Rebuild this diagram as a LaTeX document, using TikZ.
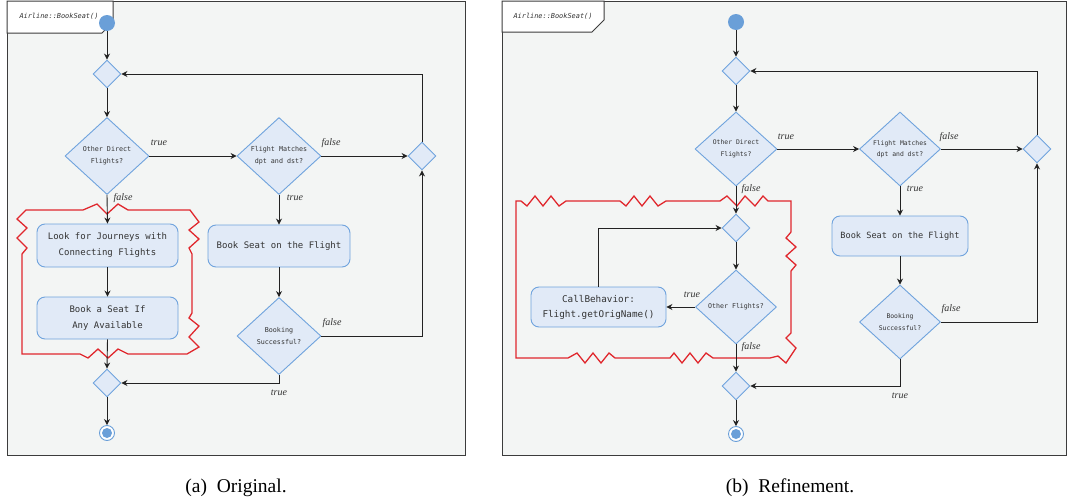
\documentclass[tikz,border=0pt]{standalone}
\usepackage{fontspec}
\setmainfont{Liberation Serif}
\newfontfamily\monof{DejaVu Sans Mono}
\usetikzlibrary{shapes.geometric,arrows.meta}
\definecolor{bg}{HTML}{F3F5F4}
\definecolor{frm}{HTML}{3C3C3C}
\definecolor{nfill}{HTML}{E1EAF7}
\definecolor{nline}{HTML}{6FA3DD}
\definecolor{dotc}{HTML}{6A9FD8}
\definecolor{zz}{HTML}{E0272D}
\definecolor{txt}{HTML}{333333}
\definecolor{edgec}{HTML}{222222}
\begin{document}
\begin{tikzpicture}[x=1pt,y=-1pt,
 panel/.style={draw=frm,line width=1pt,fill=bg},
 tabbox/.style={draw=frm,line width=1pt,fill=white},
 dec/.style={diamond,draw=nline,fill=nfill,line width=0.9pt,inner sep=0pt,text=txt,align=center},
 merge/.style={dec,minimum width=28pt,minimum height=28pt},
 actbox/.style={rectangle,rounded corners=8pt,draw=nline,fill=nfill,line width=0.9pt,text=txt,align=center,inner sep=0pt},
 initn/.style={circle,fill=dotc,minimum size=16pt,inner sep=0pt},
 finout/.style={circle,draw=dotc,fill=white,line width=0.9pt,minimum size=15pt,inner sep=0pt},
 finin/.style={circle,fill=dotc,minimum size=10pt,inner sep=0pt},
 flow/.style={draw=edgec,line width=0.9pt,-{Stealth[length=6pt,width=6pt,inset=2pt]}},
 lab/.style={font=\fontsize{10}{12}\selectfont\itshape,text=txt,inner sep=0pt},
 zig/.style={draw=zz,line width=1.3pt,line join=miter},
 ttl/.style={font=\monof\fontsize{6.9}{8}\selectfont\itshape,text=txt,inner sep=0pt},
 captxt/.style={font=\fontsize{19.5}{22}\selectfont,text=black,inner sep=0pt,anchor=base}]
\useasboundingbox (0,0) rectangle (1068,498);
\fill[white] (0,0) rectangle (1068,498);

% ---------------- panel (a) ----------------
\draw[panel] (7,1) rectangle (465,455);
\draw[tabbox] (7,1) -- (113,1) -- (113,22) -- (102,33) -- (7,33) -- cycle;
\node[ttl] (ta) at (59,16) {Airline::BookSeat()};

\draw[zig] (26,210) -- (83,210) -- (97,204) -- (107,214) -- (118,204) -- (128,210) -- (190,210)
 -- (199,222) -- (189,230) -- (199,239) -- (189,248) -- (192,254) -- (192,313) -- (189,318)
 -- (199,326) -- (189,337) -- (199,347) -- (187,354) -- (128,354) -- (118,349) -- (108,358)
 -- (98,349) -- (88,358) -- (80,354) -- (22,354) -- (22,254) -- (27,248) -- (17,238)
 -- (27,228) -- (17,219) -- cycle;

\node[initn] (ai) at (107,23) {};
\node[merge] (am1) at (107,74) {};
\node[dec,minimum width=84pt,minimum height=77pt,font=\monof\fontsize{6.7}{12}\selectfont] (ad1) at (107,156) {Other Direct\\Flights?};
\node[dec,minimum width=84pt,minimum height=77pt,font=\monof\fontsize{6.7}{12}\selectfont] (ad2) at (279,156) {Flight Matches\\dpt and dst?};
\node[merge] (amr) at (422,156) {};
\node[actbox,minimum width=142pt,minimum height=42pt,font=\monof\fontsize{9}{16}\selectfont] (abs) at (279,246) {Book Seat on the Flight};
\node[dec,minimum width=84pt,minimum height=77pt,font=\monof\fontsize{6.7}{12}\selectfont] (abk) at (279,336) {Booking\\Successful?};
\node[actbox,minimum width=141pt,minimum height=43pt,font=\monof\fontsize{9}{16}\selectfont] (alk) at (107.5,245.5) {Look for Journeys with\\Connecting Flights};
\node[actbox,minimum width=141pt,minimum height=42pt,font=\monof\fontsize{9}{16}\selectfont] (aba) at (107.5,318) {Book a Seat If\\Any Available};
\node[merge] (amb) at (107,383) {};
\node[finout] (afo) at (107,433) {};
\node[finin] (afi) at (107,433) {};

\draw[flow] (ai) -- (am1.north);
\draw[flow] (am1.south) -- (ad1.north);
\draw[flow] (ad1.east) -- (ad2.west);
\draw[flow] (ad2.east) -- (amr.west);
\draw[flow] (ad2.south) -- (abs.north);
\draw[flow] (abs.south) -- (abk.north);
\draw[flow] (abk.east) -| (amr.south);
\draw[flow] (amr.north) |- (am1.east);
\draw[flow] (abk.south) |- (amb.east);
\draw[flow] (ad1.south) -- (alk.north);
\draw[flow] (alk.south) -- (aba.north);
\draw[flow] (aba.south) -- (amb.north);
\draw[flow] (amb.south) -- (afo.north);

\node[lab] (la1) at (159,143) {true};
\node[lab] (la2) at (123,198) {false};
\node[lab] (la3) at (331,143) {false};
\node[lab] (la4) at (295,198) {true};
\node[lab] (la5) at (332,323) {false};
\node[lab] (la6) at (279,393) {true};

% ---------------- panel (b) ----------------
\draw[panel] (502,1) rectangle (1066,455);
\draw[tabbox] (502,1) -- (604,1) -- (604,20) -- (592,32) -- (502,32) -- cycle;
\node[ttl] (tb) at (553,16) {Airline::BookSeat()};

\draw[zig] (516,201) -- (521,201) -- (527,206) -- (535,196) -- (543,206) -- (551,196) -- (559,206) -- (566,201)
 -- (620,201) -- (626,206) -- (634,196) -- (642,206) -- (650,196) -- (658,206) -- (666,201)
 -- (720,201) -- (727,196) -- (737,206) -- (745,196) -- (755,206) -- (763,196) -- (768,201)
 -- (791,201) -- (791,232) -- (786,238) -- (796,247) -- (786,256) -- (796,265) -- (791,271)
 -- (791,333) -- (786,338) -- (796,348) -- (786,363) -- (778,356) -- (770,358)
 -- (713,358) -- (706,353) -- (698,363) -- (690,353) -- (682,363) -- (674,353) -- (670,358)
 -- (615,358) -- (609,353) -- (601,363) -- (593,353) -- (585,363) -- (577,353) -- (568,358)
 -- (516,358) -- cycle;

\node[initn] (bi) at (736,22) {};
\node[merge] (bm1) at (736,71) {};
\node[dec,minimum width=82pt,minimum height=74pt,font=\monof\fontsize{6.4}{11.5}\selectfont] (bd1) at (736,149) {Other Direct\\Flights?};
\node[dec,minimum width=81pt,minimum height=74pt,font=\monof\fontsize{6.4}{11.5}\selectfont] (bd2) at (900,149) {Flight Matches\\dpt and dst?};
\node[merge] (bmr) at (1037,149) {};
\node[actbox,minimum width=136pt,minimum height=40pt,font=\monof\fontsize{8.6}{15}\selectfont] (bbs) at (900,236) {Book Seat on the Flight};
\node[dec,minimum width=81pt,minimum height=74pt,font=\monof\fontsize{6.4}{11.5}\selectfont] (bbk) at (900,322) {Booking\\Successful?};
\node[merge] (bmi) at (736,228) {};
\node[dec,minimum width=81pt,minimum height=74pt,font=\monof\fontsize{6.6}{11.5}\selectfont] (bof) at (736,307) {Other Flights?};
\node[actbox,minimum width=135pt,minimum height=40pt,font=\monof\fontsize{9.3}{15}\selectfont] (bcb) at (598.5,307) {CallBehavior:\\Flight.getOrigName()};
\node[merge] (bmb) at (736,386) {};
\node[finout] (bfo) at (736,434) {};
\node[finin] (bfi) at (736,434) {};

\draw[flow] (bi) -- (bm1.north);
\draw[flow] (bm1.south) -- (bd1.north);
\draw[flow] (bd1.east) -- (bd2.west);
\draw[flow] (bd2.east) -- (bmr.west);
\draw[flow] (bd2.south) -- (bbs.north);
\draw[flow] (bbs.south) -- (bbk.north);
\draw[flow] (bbk.east) -| (bmr.south);
\draw[flow] (bmr.north) |- (bm1.east);
\draw[flow] (bbk.south) |- (bmb.east);
\draw[flow] (bd1.south) -- (bmi.north);
\draw[flow] (bmi.south) -- (bof.north);
\draw[flow] (bof.west) -- (bcb.east);
\draw[flow] (bcb.north) |- (bmi.west);
\draw[flow] (bof.south) -- (bmb.north);
\draw[flow] (bmb.south) -- (bfo.north);

\node[lab] (lb1) at (786,137) {true};
\node[lab] (lb2) at (751,189) {false};
\node[lab] (lb3) at (949,137) {false};
\node[lab] (lb4) at (915,189) {true};
\node[lab] (lb5) at (951,309) {false};
\node[lab] (lb6) at (900,396) {true};
\node[lab] (lb7) at (692,295) {true};
\node[lab] (lb8) at (751,347) {false};

% captions
\node[captxt] (capa) at (236,492) {(a)\ \ Original.};
\node[captxt] (capb) at (790,492) {(b)\ \ Refinement.};
\end{tikzpicture}
\end{document}
